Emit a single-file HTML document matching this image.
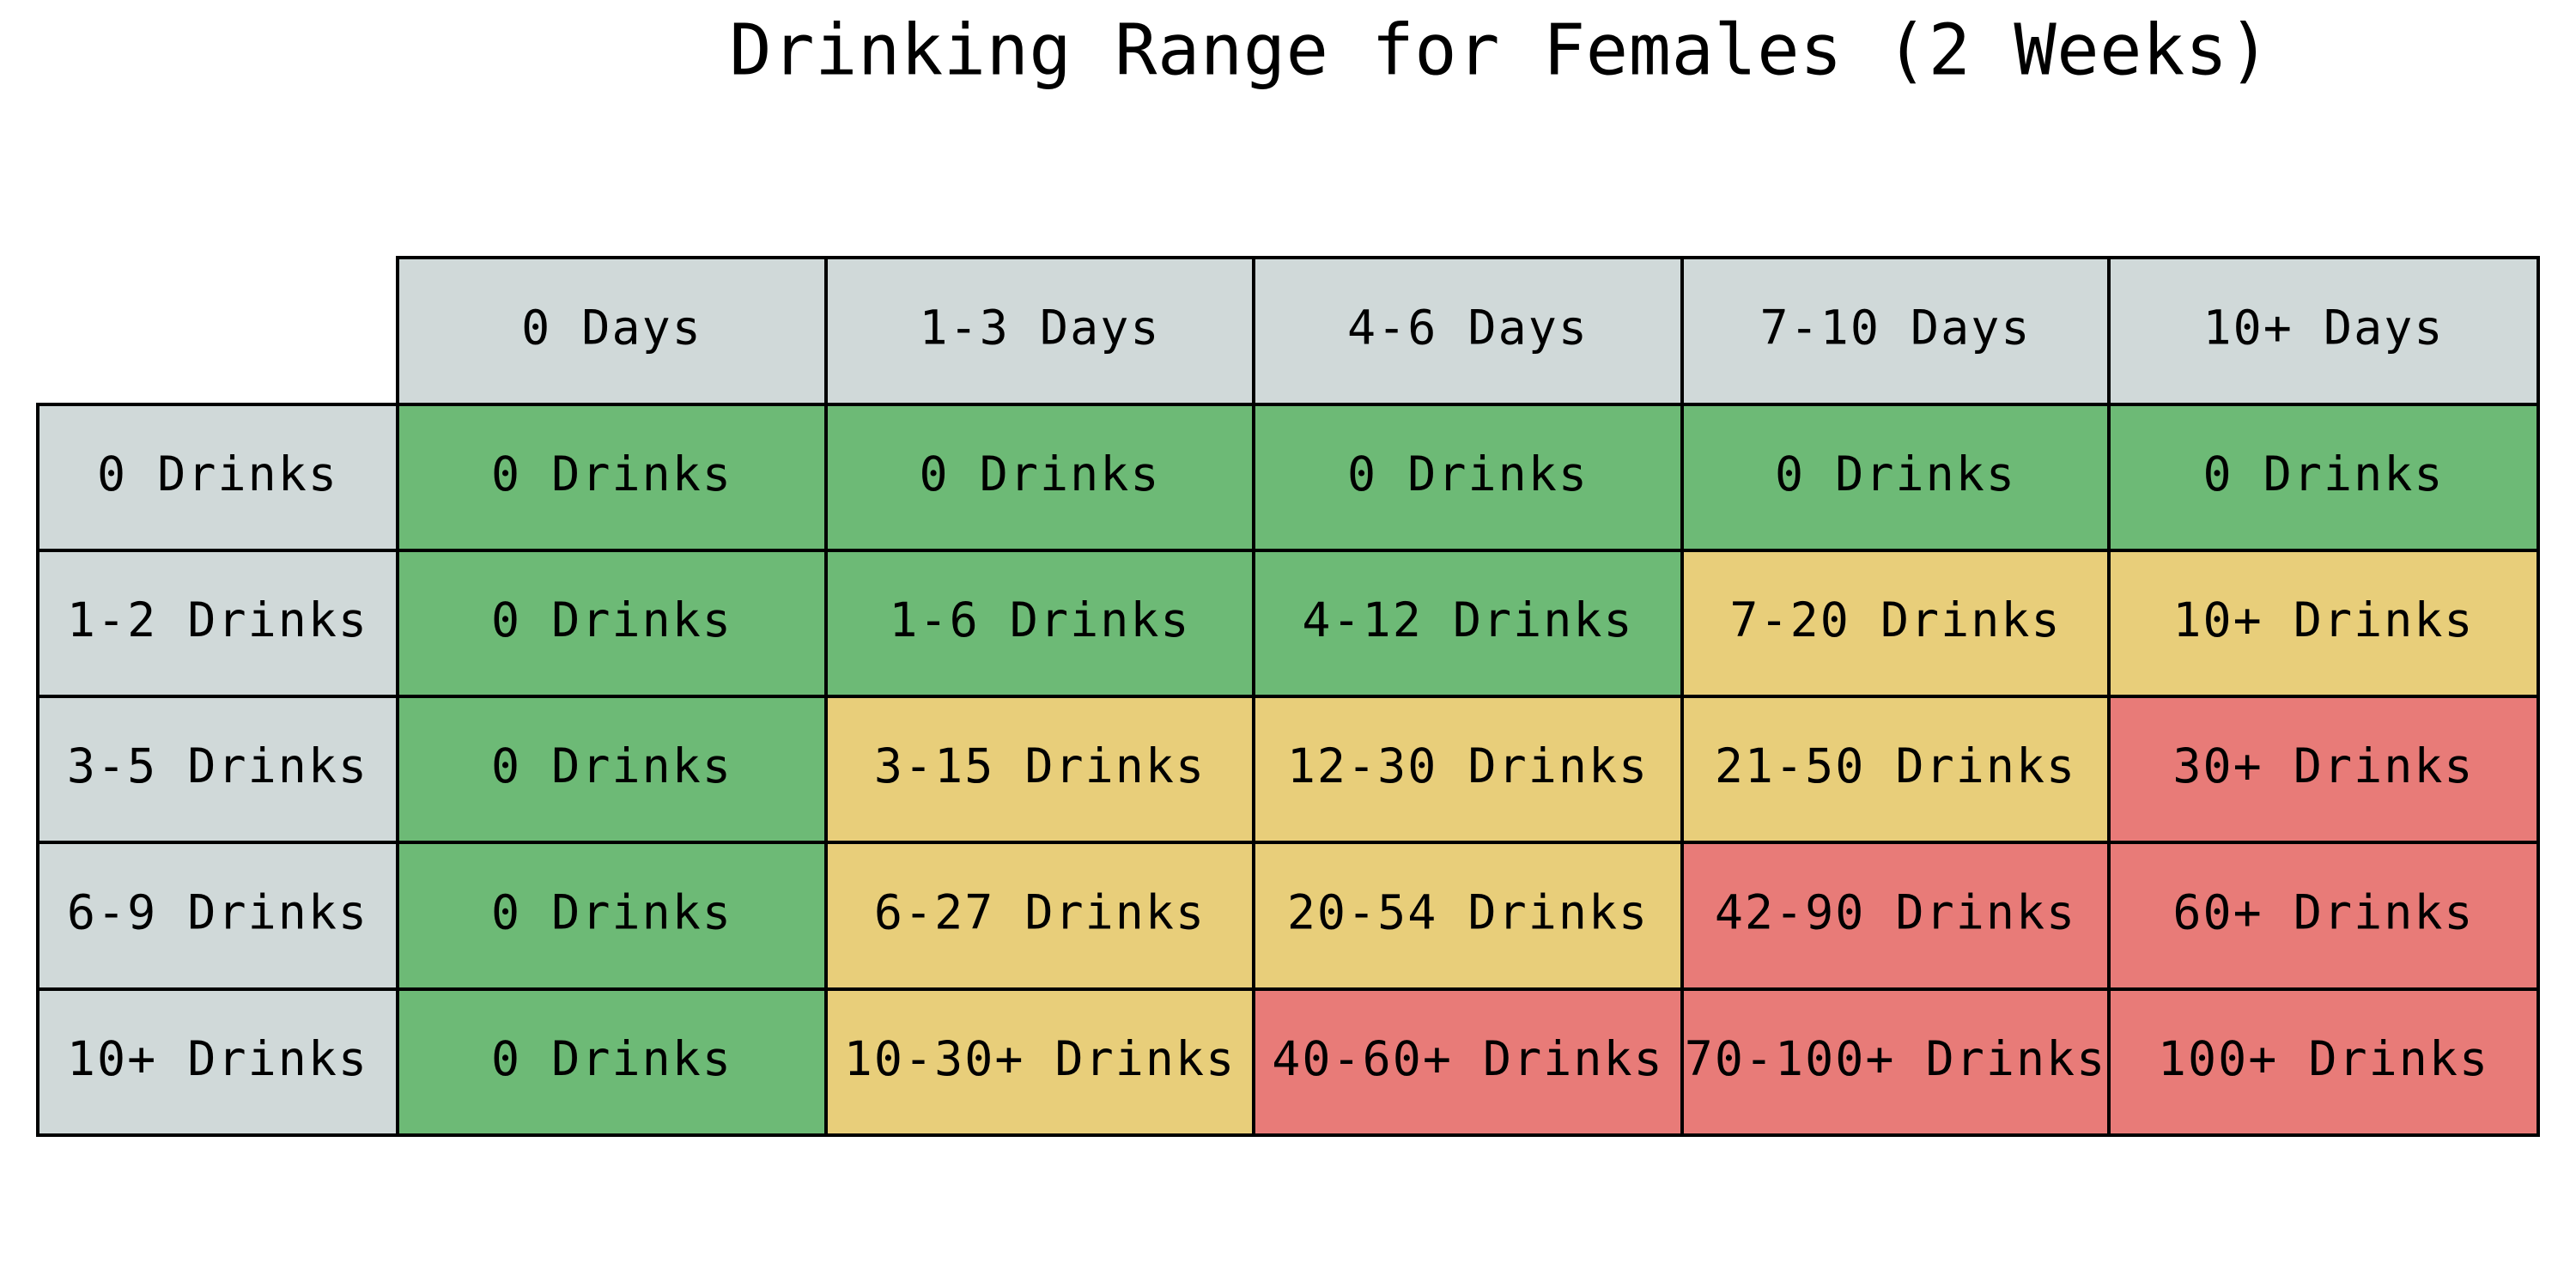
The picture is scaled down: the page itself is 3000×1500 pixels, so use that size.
<!DOCTYPE html>
<html><head><meta charset="utf-8">
<style>
html,body{margin:0;padding:0;background:#fff;}
svg{display:block;}
text{font-family:"DejaVu Sans Mono","Liberation Mono",monospace;}
</style></head>
<body>
<svg id="chart" width="3000" height="1500" viewBox="0 0 3000 1500">
<text x="1747" y="59" font-size="82" letter-spacing="0.5" text-anchor="middle" dominant-baseline="central" fill="#000">Drinking Range for Females (2 Weeks)</text>
<g id="cells"></g>
</svg>
<script>
const colLabels = ["0 Days","1-3 Days","4-6 Days","7-10 Days","10+ Days"];
const rowLabels = ["0 Drinks","1-2 Drinks","3-5 Drinks","6-9 Drinks","10+ Drinks"];
const cellText = [
 ["0 Drinks","0 Drinks","0 Drinks","0 Drinks","0 Drinks"],
 ["0 Drinks","1-6 Drinks","4-12 Drinks","7-20 Drinks","10+ Drinks"],
 ["0 Drinks","3-15 Drinks","12-30 Drinks","21-50 Drinks","30+ Drinks"],
 ["0 Drinks","6-27 Drinks","20-54 Drinks","42-90 Drinks","60+ Drinks"],
 ["0 Drinks","10-30+ Drinks","40-60+ Drinks","70-100+ Drinks","100+ Drinks"]
];
const cellLevel = [
 ["g","g","g","g","g"],
 ["g","g","g","y","y"],
 ["g","y","y","y","r"],
 ["g","y","y","r","r"],
 ["g","y","r","r","r"]
];
const colors = {g:"#6dba76", y:"#e8ce7a", r:"#e87b78", h:"#d0d9d9"};
const xEdges = [44,463,962,1460,1959,2456,2956];
const yEdges = [300,471,641,811,981,1152,1322];
const g = document.getElementById('cells');
const NS = "http://www.w3.org/2000/svg";
function cell(c, r, fill, label, name){
  const x0=xEdges[c], x1=xEdges[c+1], y0=yEdges[r], y1=yEdges[r+1];
  const rect=document.createElementNS(NS,'rect');
  rect.setAttribute('x',x0);rect.setAttribute('y',y0);
  rect.setAttribute('width',x1-x0);rect.setAttribute('height',y1-y0);
  rect.setAttribute('fill',fill);rect.setAttribute('stroke','#000');rect.setAttribute('stroke-width','4');
  
  
  g.appendChild(rect);
  const t=document.createElementNS(NS,'text');
  t.setAttribute('x',(x0+x1)/2);t.setAttribute('y',(y0+y1)/2-4);
  t.setAttribute('font-size','55');t.setAttribute('letter-spacing','2');t.setAttribute('text-anchor','middle');
  t.setAttribute('dominant-baseline','central');t.setAttribute('fill','#000');
  t.textContent=label;
  
  
  g.appendChild(t);
}
colLabels.forEach((l,i)=>cell(i+1,0,colors.h,l,'column-header'));
rowLabels.forEach((l,i)=>cell(0,i+1,colors.h,l,'row-header'));
cellText.forEach((row,r)=>row.forEach((l,c)=>cell(c+1,r+1,colors[cellLevel[r][c]],l,'table-cell')));
</script>
</body></html>
